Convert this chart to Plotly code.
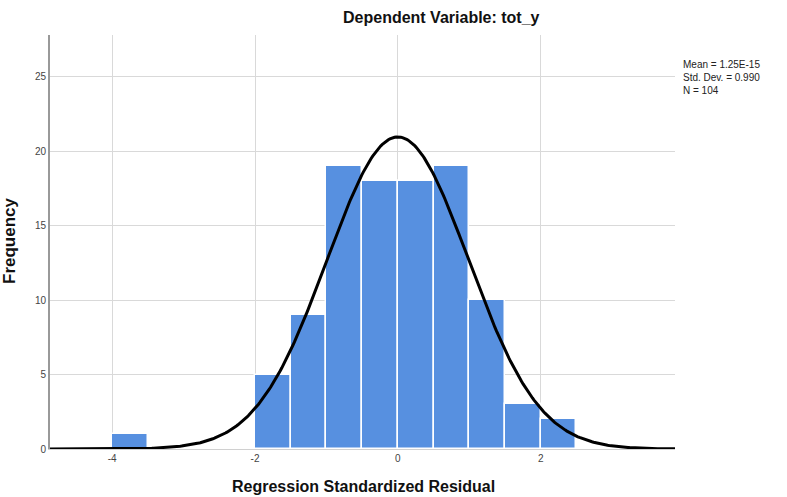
import numpy as np
import plotly.graph_objects as go

# Histogram bins (left edges) and counts
bin_left = [-4.0, -3.5, -3.0, -2.5, -2.0, -1.5, -1.0, -0.5, 0.0, 0.5, 1.0, 1.5, 2.0]
counts = [1, 0, 0, 0, 5, 9, 19, 18, 18, 19, 10, 3, 2]
bin_width = 0.5

# Summary statistics shown in the chart
stat_mean = 1.25e-15
stat_sd = 0.990
stat_n = 104

x_ticks = [-4, -2, 0, 2]
y_ticks = [0, 5, 10, 15, 20, 25]
x_range = [-4.87, 3.88]
y_range = [0, 27.8]

centers = [b + bin_width / 2 for b in bin_left]

# Normal curve fitted from the displayed statistics
xc = np.linspace(x_range[0], x_range[1], 400)
yc = stat_n * bin_width / (stat_sd * np.sqrt(2 * np.pi)) * np.exp(-0.5 * ((xc - stat_mean) / stat_sd) ** 2)

fig = go.Figure()
fig.add_trace(go.Bar(
    x=centers, y=counts, width=bin_width,
    marker=dict(color="#5790e0", line=dict(color="white", width=1.5)),
    hoverinfo="x+y", showlegend=False,
))
fig.add_trace(go.Scatter(
    x=xc, y=yc, mode="lines",
    line=dict(color="black", width=3),
    showlegend=False, hoverinfo="skip",
))

font_family = "Liberation Sans, Arial, sans-serif"

W, H = 787, 497
L, R, T, B = 50, 112, 35, 48
plot_w = W - L - R
plot_h = H - T - B

def px(pix):
    return (pix - L) / plot_w

def py(pix):
    return (H - B - pix) / plot_h

fig.update_layout(
    width=W, height=H,
    margin=dict(l=L, r=R, t=T, b=B, autoexpand=False),
    paper_bgcolor="white", plot_bgcolor="white",
    bargap=0,
    font=dict(family=font_family, color="#222"),
    xaxis=dict(
        range=x_range, tickvals=x_ticks, ticktext=[str(v) for v in x_ticks],
        showgrid=True, gridcolor="#d9d9d9", gridwidth=1,
        zeroline=False, showline=True, linecolor="#d0d0d0", linewidth=1,
        ticks="", tickfont=dict(size=10, color="#444"), automargin=False,
    ),
    yaxis=dict(
        range=y_range, tickvals=y_ticks, ticktext=[str(v) for v in y_ticks],
        showgrid=True, gridcolor="#d9d9d9", gridwidth=1,
        zeroline=False, showline=True, linecolor="#999", linewidth=2,
        ticks="", tickfont=dict(size=10, color="#444"), automargin=False,
    ),
    annotations=[
        dict(x=px(441), y=py(17), xref="paper", yref="paper",
             xanchor="center", yanchor="middle", showarrow=False,
             text="<b>Dependent Variable: tot_y</b>",
             font=dict(size=16, color="#111")),
        dict(x=px(363), y=py(486), xref="paper", yref="paper",
             xanchor="center", yanchor="middle", showarrow=False,
             text="<b>Regression Standardized Residual</b>",
             font=dict(size=16, color="#111")),
        dict(x=px(9), y=py(241), xref="paper", yref="paper",
             xanchor="center", yanchor="middle", showarrow=False, textangle=-90,
             text="<b>Frequency</b>",
             font=dict(size=17, color="#111")),
        dict(x=1.0, y=py(57), xref="paper", yref="paper", xanchor="left", yanchor="top",
             xshift=6, align="left", showarrow=False,
             text=f"Mean = 1.25E-15<br>Std. Dev. = {stat_sd:.3f}<br>N = {stat_n}",
             font=dict(size=10, color="#222")),
    ],
)

fig.write_html("out.html")
